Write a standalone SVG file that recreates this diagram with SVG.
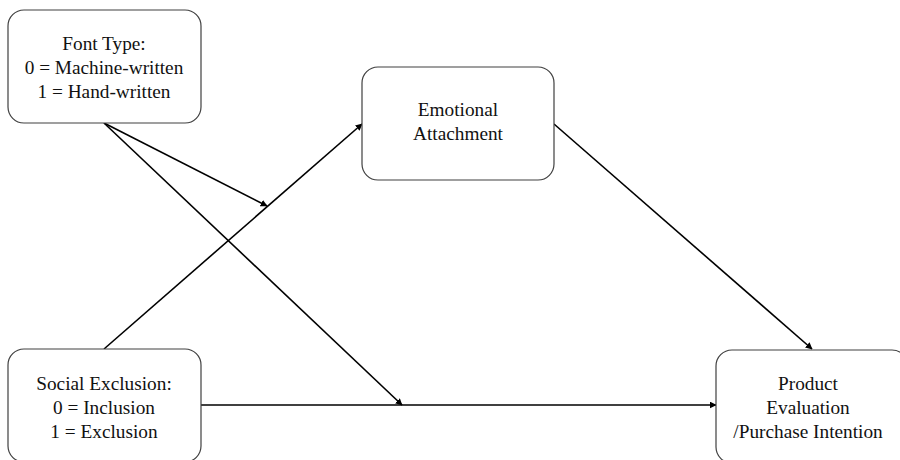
<svg xmlns="http://www.w3.org/2000/svg" width="900" height="460" viewBox="0 0 900 460">
<style>
.box{fill:#fff;stroke:#404040;stroke-width:1.2}
.t{font-family:"Liberation Serif","Times New Roman",serif;font-size:19.3px;fill:#111;text-anchor:middle}
.c{stroke:#000;stroke-width:1.6;fill:none;marker-end:url(#ah)}
</style>
<defs>
<marker id="ah" viewBox="0 0 10 10" refX="9" refY="5" markerWidth="7" markerHeight="7" markerUnits="userSpaceOnUse" orient="auto">
<path d="M0,0 L10,5 L0,10 z" fill="#000"/>
</marker>
</defs>
<rect width="900" height="460" fill="#fff"/>
<g id="connectors">
<line class="c" x1="104" y1="123" x2="267" y2="206"/>
<line class="c" x1="104" y1="123" x2="402" y2="405"/>
<line class="c" x1="104" y1="349" x2="362" y2="124"/>
<line class="c" x1="554" y1="124" x2="812" y2="349"/>
<line class="c" x1="201" y1="405" x2="716" y2="405"/>
</g>
<g id="font-type">
<rect class="box" x="8" y="10" width="193" height="113" rx="16"/>
<text class="t" x="104" y="50">Font Type:</text>
<text class="t" x="104" y="74">0 = Machine-written</text>
<text class="t" x="104" y="98">1 = Hand-written</text>
</g>
<g id="emotional-attachment">
<rect class="box" x="362" y="67" width="192" height="113" rx="16"/>
<text class="t" x="458" y="116">Emotional</text>
<text class="t" x="458" y="140">Attachment</text>
</g>
<g id="social-exclusion">
<rect class="box" x="8" y="349" width="193" height="113" rx="16"/>
<text class="t" x="104" y="390">Social Exclusion:</text>
<text class="t" x="104" y="414">0 = Inclusion</text>
<text class="t" x="104" y="438">1 = Exclusion</text>
</g>
<g id="product-evaluation">
<rect class="box" x="716" y="350" width="192" height="113" rx="16"/>
<text class="t" x="808" y="390">Product</text>
<text class="t" x="808" y="414">Evaluation</text>
<text class="t" x="808" y="438">/Purchase Intention</text>
</g>
</svg>
